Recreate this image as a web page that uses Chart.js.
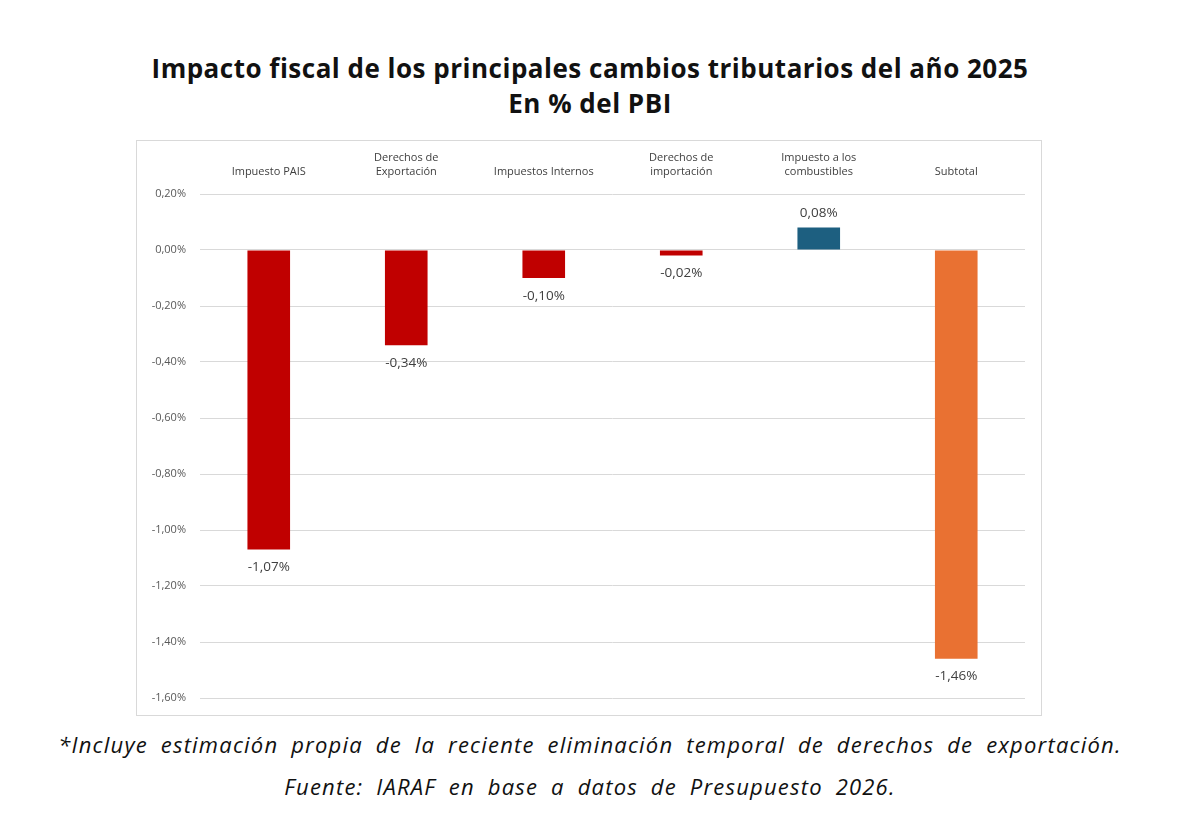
<!DOCTYPE html>
<html>
<head>
<meta charset="utf-8">
<script src="https://cdn.jsdelivr.net/npm/chart.js@4"></script>
<style>
  body { margin: 0; background: #fff; width: 1200px; height: 831px; position: relative; font-family: 'Open Sans', sans-serif; }
  .title { position: absolute; left: 0; width: 1180px; text-align: center; font-weight: bold; font-size: 26px; letter-spacing: 0.5px; color: #111; }
  .frame { position: absolute; left: 136px; top: 140px; width: 906px; height: 576px; border: 1px solid #d9d9d9; box-sizing: border-box; }
  .note { position: absolute; left: 0; width: 1180px; text-align: center; font-style: italic; font-size: 22px; letter-spacing: 1.2px; word-spacing: 6px; color: #111; }
</style>
</head>
<body>
<div class="title" style="top: 50px;">Impacto fiscal de los principales cambios tributarios del año 2025</div>
<div class="title" style="top: 85px;">En % del PBI</div>
<div class="frame"><canvas id="chart" width="904" height="574"></canvas></div>
<div class="note" style="top: 729px;">*Incluye estimación propia de la reciente eliminación temporal de derechos de exportación.</div>
<div class="note" style="top: 771px;">Fuente: IARAF en base a datos de Presupuesto 2026.</div>

<script>
const categories = [
    ['Impuesto PAIS'],
    ['Derechos de', 'Exportación'],
    ['Impuestos Internos'],
    ['Derechos de', 'importación'],
    ['Impuesto a los', 'combustibles'],
    ['Subtotal']
];
const values = [-1.07, -0.34, -0.10, -0.02, 0.08, -1.46];
const barColors = ['#c00000', '#c00000', '#c00000', '#c00000', '#1d5f80', '#e97132'];
const yTicks = [0.2, 0, -0.2, -0.4, -0.6, -0.8, -1.0, -1.2, -1.4, -1.6];

function fmt(v) {
    return v.toFixed(2).replace('.', ',') + '%';
}

// etiquetas de valor en el extremo de cada barra
const valueLabels = {
    id: 'valueLabels',
    afterDatasetsDraw(chart) {
        const ctx = chart.ctx;
        const meta = chart.getDatasetMeta(0);
        ctx.save();
        ctx.font = '13.5px "Open Sans", sans-serif';
        ctx.fillStyle = '#404040';
        ctx.textAlign = 'center';
        meta.data.forEach((bar, i) => {
            const v = values[i];
            if (v < 0) {
                ctx.textBaseline = 'top';
                ctx.fillText(fmt(v), bar.x, bar.y + 11);
            } else {
                ctx.textBaseline = 'bottom';
                ctx.fillText(fmt(v), bar.x, bar.y - 8);
            }
        });
        ctx.restore();
    }
};

new Chart(document.getElementById('chart'), {
    type: 'bar',
    data: {
        labels: categories,
        datasets: [{
            data: values,
            backgroundColor: barColors,
            barPercentage: 0.31,
            categoryPercentage: 1
        }]
    },
    options: {
        responsive: false,
        animation: false,
        layout: { padding: { left: 0, right: 16, top: 0, bottom: 0 } },
        plugins: {
            legend: { display: false },
            tooltip: { enabled: false }
        },
        scales: {
            x: {
                position: 'top',
                grid: { display: false },
                border: { display: false },
                ticks: {
                    color: '#404040',
                    font: { family: '"Open Sans", sans-serif', size: 11 },
                    maxRotation: 0,
                    padding: 8
                },
                afterFit(scale) { scale.height = 53; }
            },
            y: {
                min: -1.6,
                max: 0.2,
                afterBuildTicks(scale) { scale.ticks = yTicks.map(v => ({ value: v })); },
                grid: { color: '#d9d9d9', drawTicks: false },
                border: { display: false },
                ticks: {
                    color: '#595959',
                    font: { family: '"Open Sans", sans-serif', size: 11 },
                    padding: 14,
                    callback: v => fmt(v)
                },
                afterFit(scale) {
                    scale.width = 63;
                    scale.paddingTop = 0;
                    scale.paddingBottom = 17;
                }
            }
        }
    },
    plugins: [valueLabels]
});
</script>
</body>
</html>
